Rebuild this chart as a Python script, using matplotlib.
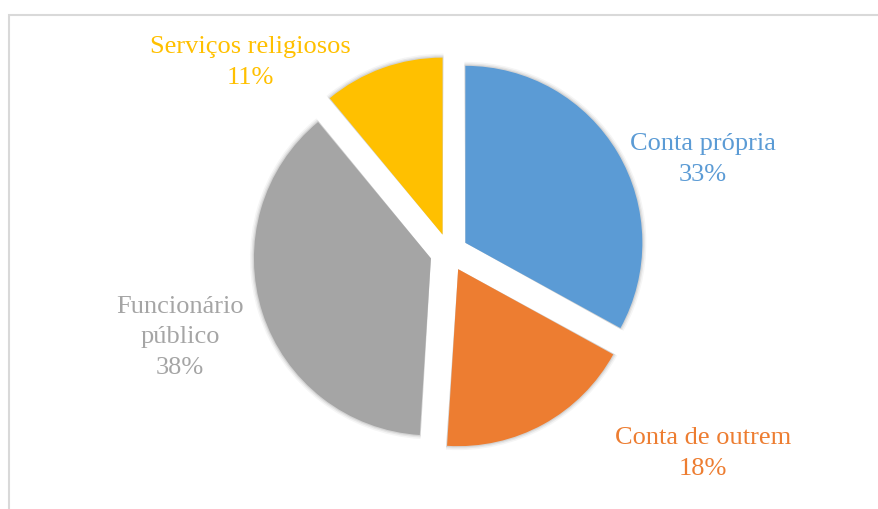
import matplotlib
matplotlib.use("Agg")
import matplotlib.pyplot as plt
from matplotlib.patches import Rectangle, Wedge

categories = ["Conta própria", "Conta de outrem", "Funcionário público", "Serviços religiosos"]
shares = [33, 18, 38, 11]
colors = ["#5B9BD5", "#ED7D31", "#A5A5A5", "#FFC000"]
label_lines = ["Conta própria", "Conta de outrem", "Funcionário\npúblico", "Serviços religiosos"]

W, H = 879, 509
fig = plt.figure(figsize=(W / 100, H / 100), dpi=100)
ax = fig.add_axes([0, 0, 1, 1])

center = (449, H - 252.5)
radius = 177
gap = 19  # outward offset of each slice, in pixels

wedges, _ = ax.pie(
    shares,
    colors=colors,
    startangle=90,
    counterclock=False,
    explode=[gap] * len(shares),
    radius=radius,
    center=center,
    wedgeprops=dict(linewidth=0, zorder=3),
    frame=True,
)

# soft halo behind each slice
for w in wedges:
    for k, a in [(4, 0.04), (2.5, 0.06), (1.2, 0.08)]:
        halo = Wedge(w.center, w.r + k, w.theta1 - 0.3, w.theta2 + 0.3,
                     facecolor="#000000", alpha=a, linewidth=0, zorder=2)
        ax.add_patch(halo)

label_pos = [(703, 159.5), (703, 453.5), (180, 337.5), (250, 62.5)]
for name, v, col, (x, y) in zip(label_lines, shares, colors, label_pos):
    ax.text(x, H - y, f"{name}\n{v}%", color=col, ha="center", va="center",
            multialignment="center", fontsize=19, family="Liberation Serif",
            linespacing=1.52, transform=ax.transData)

ax.add_patch(Rectangle((9.5, -20), W + 30, H - 14.5 + 20, fill=False,
                       edgecolor="#D9D9D9", linewidth=1.5, zorder=1))

ax.set_xlim(0, W)
ax.set_ylim(0, H)
ax.set_aspect("equal")
ax.axis("off")
fig.savefig("out.png", dpi=100)
